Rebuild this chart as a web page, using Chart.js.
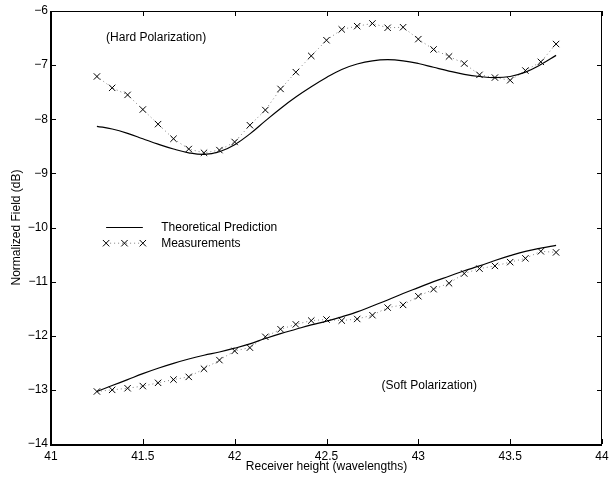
<!DOCTYPE html>
<html>
<head>
<meta charset="utf-8">
<script src="https://cdn.jsdelivr.net/npm/chart.js@4/dist/chart.umd.min.js"></script>
<style>
  html, body { margin: 0; padding: 0; background: #fff; }
  #wrap { width: 614px; height: 479px; }
</style>
</head>
<body>
<div id="wrap"><canvas id="c" width="614" height="479"></canvas></div>
<script>
// receiver heights (wavelengths)
const heights = [41.25, 41.333, 41.417, 41.5, 41.583, 41.667, 41.75, 41.833, 41.917, 42.0,
  42.083, 42.167, 42.25, 42.333, 42.417, 42.5, 42.583, 42.667, 42.75, 42.833,
  42.917, 43.0, 43.083, 43.167, 43.25, 43.333, 43.417, 43.5, 43.583, 43.667, 43.75];

// hard polarization
const hardTheory = [-8.13, -8.18, -8.26, -8.36, -8.46, -8.55, -8.62, -8.65, -8.60, -8.47,
  -8.27, -8.03, -7.80, -7.59, -7.40, -7.23, -7.08, -6.98, -6.92, -6.90,
  -6.92, -6.97, -7.04, -7.11, -7.17, -7.21, -7.23, -7.21, -7.13, -6.99, -6.82];
const hardMeasured = [-7.21, -7.42, -7.55, -7.82, -8.09, -8.36, -8.55, -8.62, -8.57, -8.42,
  -8.11, -7.83, -7.44, -7.13, -6.83, -6.54, -6.34, -6.28, -6.23, -6.31,
  -6.30, -6.52, -6.71, -6.84, -6.97, -7.18, -7.23, -7.28, -7.10, -6.94, -6.61];

// soft polarization
const softTheory = [-13.03, -12.92, -12.81, -12.70, -12.60, -12.51, -12.43, -12.36, -12.30, -12.23,
  -12.15, -12.05, -11.96, -11.88, -11.80, -11.73, -11.65, -11.56, -11.45, -11.34,
  -11.22, -11.11, -11.00, -10.90, -10.80, -10.71, -10.61, -10.52, -10.44, -10.38, -10.33];
const softMeasured = [-13.03, -13.00, -12.97, -12.93, -12.87, -12.81, -12.76, -12.61, -12.45, -12.28,
  -12.22, -12.02, -11.88, -11.79, -11.72, -11.70, -11.72, -11.69, -11.62, -11.48,
  -11.43, -11.27, -11.14, -11.03, -10.85, -10.76, -10.71, -10.64, -10.57, -10.44, -10.46];

const legendLabels = ['Theoretical Prediction', 'Measurements'];
const notes = [
  { text: '(Hard Polarization)', x: 41.30, y: -6.5 },
  { text: '(Soft Polarization)', x: 42.80, y: -12.93 }
];

const FAMILY = '"Liberation Sans", Arial, Helvetica, sans-serif';
const FONT = '12px ' + FAMILY;
const MEAS_DOT = '#808080';

const pts = (ys) => heights.map((x, i) => ({ x: x, y: ys[i] }));

const theoryStyle = {
  borderColor: '#000', borderWidth: 1.2, pointRadius: 0, tension: 0.4, fill: false
};
const measStyle = {
  borderColor: MEAS_DOT, borderWidth: 1, borderDash: [1, 3], tension: 0,
  pointStyle: 'crossRot', pointRadius: 4.5, pointBorderColor: '#000',
  pointBorderWidth: 1, fill: false
};

// 框線、內側刻度、註解、圖例
const decor = {
  id: 'decor',
  afterDraw(chart) {
    const c = chart.ctx;
    const a = chart.chartArea;
    const sx = chart.scales.x, sy = chart.scales.y;
    c.save();
    c.strokeStyle = '#000';
    // box
    c.lineWidth = 1;
    c.beginPath();
    c.moveTo(a.left, a.top + 0.5); c.lineTo(a.right, a.top + 0.5);
    c.moveTo(a.right - 0.5, a.top); c.lineTo(a.right - 0.5, a.bottom);
    c.stroke();
    c.lineWidth = 2;
    c.beginPath();
    c.moveTo(a.left, a.top); c.lineTo(a.left, a.bottom + 1);
    c.lineTo(a.right, a.bottom + 1);
    c.stroke();
    // ticks inside
    c.lineWidth = 1;
    c.beginPath();
    sx.ticks.forEach(t => {
      const px = Math.round(sx.getPixelForValue(t.value)) + 0.5;
      c.moveTo(px, a.bottom); c.lineTo(px, a.bottom - 5);
      c.moveTo(px, a.top); c.lineTo(px, a.top + 5);
    });
    sy.ticks.forEach(t => {
      const py = Math.round(sy.getPixelForValue(t.value)) + 0.5;
      c.moveTo(a.left, py); c.lineTo(a.left + 5, py);
      c.moveTo(a.right, py); c.lineTo(a.right - 5, py);
    });
    c.stroke();
    // notes
    c.fillStyle = '#000';
    c.font = FONT;
    c.textAlign = 'left';
    c.textBaseline = 'middle';
    notes.forEach(n => c.fillText(n.text, sx.getPixelForValue(n.x), sy.getPixelForValue(n.y)));
    // legend
    const lx0 = sx.getPixelForValue(41.30), lx1 = sx.getPixelForValue(41.50);
    const tx = sx.getPixelForValue(41.60);
    const y1 = sy.getPixelForValue(-10.0), y2 = sy.getPixelForValue(-10.29);
    c.lineWidth = 1.2;
    c.beginPath(); c.moveTo(lx0, y1); c.lineTo(lx1, y1); c.stroke();
    c.fillText(legendLabels[0], tx, y1);
    c.strokeStyle = MEAS_DOT;
    c.lineWidth = 1;
    c.setLineDash([1, 3]);
    c.beginPath(); c.moveTo(lx0, y2); c.lineTo(lx1, y2); c.stroke();
    c.setLineDash([]);
    c.strokeStyle = '#000';
    const d = 3.2;
    [lx0, (lx0 + lx1) / 2, lx1].forEach(px => {
      c.beginPath();
      c.moveTo(px - d, y2 - d); c.lineTo(px + d, y2 + d);
      c.moveTo(px - d, y2 + d); c.lineTo(px + d, y2 - d);
      c.stroke();
    });
    c.fillText(legendLabels[1], tx, y2);
    c.restore();
  }
};

const minus = (v) => String(v).replace('-', '\u2212');

new Chart(document.getElementById('c'), {
  type: 'line',
  data: {
    datasets: [
      Object.assign({ label: 'Hard theory', data: pts(hardTheory) }, theoryStyle),
      Object.assign({ label: 'Hard measured', data: pts(hardMeasured) }, measStyle),
      Object.assign({ label: 'Soft theory', data: pts(softTheory) }, theoryStyle),
      Object.assign({ label: 'Soft measured', data: pts(softMeasured) }, measStyle)
    ]
  },
  options: {
    responsive: false,
    animation: false,
    layout: { padding: { top: 11, right: 12, left: 0, bottom: 0 } },
    plugins: { legend: { display: false }, tooltip: { enabled: false } },
    scales: {
      x: {
        type: 'linear', min: 41, max: 44,
        afterFit(s) { s.height = 35; },
        border: { display: false },
        grid: { display: false, drawTicks: false },
        ticks: { stepSize: 0.5, padding: 5, color: '#000', font: { family: FAMILY, size: 12 },
          maxRotation: 0, autoSkip: false, callback: (v) => String(v) },
        title: { display: true, text: 'Receiver height (wavelengths)', color: '#000',
          font: { family: FAMILY, size: 12 }, padding: { top: 0, bottom: 5 } }
      },
      y: {
        type: 'linear', min: -14, max: -6,
        afterFit(s) { s.width = 51; },
        border: { display: false },
        grid: { display: false, drawTicks: false },
        ticks: { stepSize: 1, padding: 3, color: '#000', font: { family: FAMILY, size: 12 },
          callback: (v) => minus(v) },
        title: { display: true, text: 'Normalized Field (dB)', color: '#000',
          font: { family: FAMILY, size: 12 }, padding: { top: 9, bottom: 0 } }
      }
    }
  },
  plugins: [decor]
});
</script>
</body>
</html>
